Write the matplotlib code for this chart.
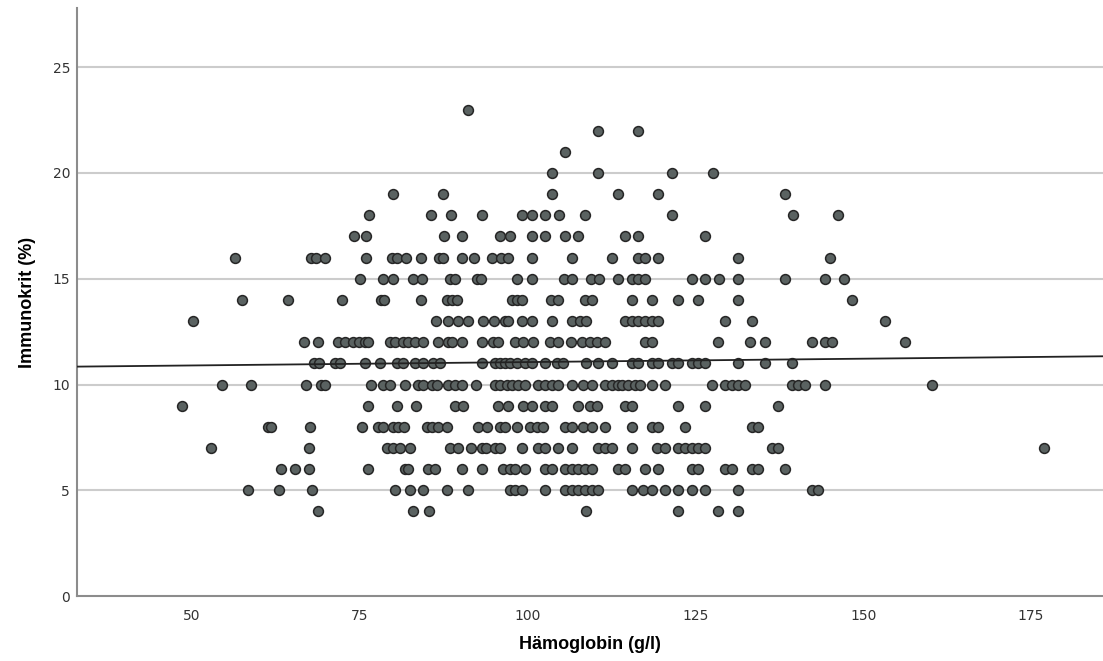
import numpy as np
import matplotlib
matplotlib.use("Agg")
import matplotlib.pyplot as plt

# Hämoglobin (g/l) readings, grouped by Immunokrit (%) value
hb_by_ik = {
    23: [91.2],
    22: [110.6, 116.5],
    21: [105.7],
    20: [103.7, 110.6, 121.6, 127.6],
    19: [80.1, 87.4, 103.7, 113.5, 119.5, 138.4],
    18: [76.5, 85.7, 88.7, 93.3, 99.3, 100.7, 102.7, 104.8, 108.6, 121.6, 139.5, 146.3],
    17: [74.3, 76.0, 87.6, 90.3, 96.0, 97.5, 100.7, 102.7, 105.7, 107.6, 114.6, 116.5, 126.5],
    16: [56.5, 67.9, 68.5, 69.9, 76.0, 79.9, 80.7, 82.0, 84.2, 86.9, 87.5, 90.3, 92.1, 94.8,
         96.1, 97.2, 100.7, 106.7, 112.6, 116.5, 117.6, 119.5, 131.4, 145.1],
    15: [75.1, 78.6, 80.1, 83.0, 84.4, 88.5, 89.3, 92.6, 93.2, 98.5, 100.7, 105.5, 106.7, 109.5,
         110.7, 113.5, 115.6, 116.5, 117.6, 124.6, 126.5, 128.5, 131.4, 138.4, 144.3, 147.2],
    14: [57.6, 64.4, 72.5, 78.3, 78.7, 84.2, 88.1, 88.8, 89.6, 97.8, 98.5, 99.3, 103.6, 104.6,
         108.6, 109.7, 115.6, 118.6, 122.5, 125.4, 131.4, 148.4],
    13: [50.3, 86.5, 88.2, 89.7, 91.2, 93.5, 95.1, 96.7, 97.2, 99.3, 100.7, 103.7, 106.7, 107.9,
         108.8, 114.6, 115.6, 116.5, 117.6, 118.6, 119.5, 129.5, 133.5, 153.3],
    12: [66.8, 68.8, 71.9, 72.9, 74.1, 74.9, 75.9, 76.3, 79.6, 80.4, 81.5, 82.3, 83.3, 84.5,
         86.8, 88.2, 88.8, 90.3, 93.3, 94.9, 95.7, 98.2, 99.4, 100.9, 103.4, 104.6, 106.5, 108.2,
         109.4, 110.4, 111.6, 117.6, 118.6, 128.4, 133.2, 135.4, 142.4, 144.3, 145.4, 156.3],
    11: [68.2, 69.0, 71.4, 72.2, 75.9, 78.1, 80.7, 81.5, 83.3, 84.5, 86.0, 87.1, 93.3, 95.2,
         96.0, 96.7, 97.5, 98.5, 99.7, 100.7, 102.7, 104.5, 105.4, 108.8, 110.6, 112.6, 115.6,
         116.5, 118.6, 119.5, 121.6, 122.5, 124.6, 125.4, 126.5, 131.4, 135.4, 139.4],
    10: [54.6, 58.9, 67.1, 69.3, 69.9, 76.8, 78.6, 79.6, 81.8, 83.8, 84.5, 85.9, 86.6, 88.2,
         89.3, 90.3, 92.4, 95.2, 96.0, 97.0, 97.8, 98.7, 99.7, 101.6, 102.7, 103.7, 104.6, 106.7,
         108.3, 109.7, 111.6, 112.6, 113.5, 114.1, 115.0, 116.1, 116.8, 118.6, 120.5, 127.5,
         129.5, 130.5, 131.4, 132.4, 139.4, 140.3, 141.4, 144.3, 160.3],
    9: [48.7, 76.3, 80.7, 83.5, 89.3, 90.5, 95.7, 97.2, 99.4, 100.7, 102.7, 103.7, 107.6, 109.4,
        110.4, 114.6, 115.6, 122.5, 126.5, 137.4],
    8: [61.5, 61.9, 67.7, 75.4, 77.8, 78.6, 80.1, 80.8, 81.7, 85.1, 85.9, 86.8, 88.1, 92.7,
        94.0, 96.0, 96.7, 98.5, 100.4, 101.5, 102.4, 105.7, 106.7, 108.3, 109.7, 111.6, 115.6,
        118.6, 119.5, 123.5, 133.5, 134.4],
    7: [53.0, 67.6, 79.2, 80.1, 81.1, 82.6, 88.5, 89.7, 91.7, 93.3, 93.8, 95.2, 96.0, 99.3,
        101.6, 102.7, 104.6, 106.7, 110.6, 111.6, 112.6, 115.6, 119.3, 120.5, 122.5, 123.5,
        124.6, 125.4, 126.5, 136.5, 137.4, 176.9],
    6: [63.4, 65.5, 67.6, 76.3, 81.8, 82.3, 85.3, 86.3, 90.3, 93.3, 96.4, 97.5, 98.2, 99.7,
        102.7, 103.7, 105.7, 106.7, 107.6, 108.6, 109.7, 113.5, 114.6, 117.6, 119.5, 124.6,
        125.4, 129.5, 130.5, 133.5, 134.4, 138.4],
    5: [58.5, 63.1, 68.0, 80.4, 82.6, 84.5, 88.1, 91.2, 97.5, 98.2, 99.3, 102.7, 105.7, 106.7,
        107.6, 108.6, 109.7, 110.6, 115.6, 117.3, 118.6, 120.5, 122.5, 124.6, 126.5, 131.4,
        142.4, 143.3],
    4: [68.8, 83.0, 85.4, 108.8, 122.5, 128.4, 131.4],
}

# fit line as shown in the chart
fit_intercept = 10.74
fit_slope = 0.0032

hb = np.array([h for ik in hb_by_ik for h in hb_by_ik[ik]])
ik = np.array([ik for ik in hb_by_ik for h in hb_by_ik[ik]], dtype=float)

x_ticks = [50, 75, 100, 125, 150, 175]
y_ticks = [0, 5, 10, 15, 20, 25]

fig = plt.figure(figsize=(11.03, 6.61), dpi=100)
ax = fig.add_axes([0.0698, 0.0983, 0.9302, 0.8896])

ax.set_xlim(33.0, 185.7)
ax.set_ylim(0, 27.8)

for t in y_ticks[1:]:
    ax.axhline(t, color="#cccccc", lw=1.5, zorder=0)

ax.scatter(hb, ik, s=50, facecolor="#5a6261", edgecolor="#262626", linewidth=1.1, zorder=3)

xs = np.array(ax.get_xlim())
ax.plot(xs, fit_intercept + fit_slope * xs, color="#222222", lw=1.3, zorder=4)

ax.set_xticks(x_ticks)
ax.set_yticks(y_ticks)
ax.tick_params(length=0, labelsize=10, labelcolor="#333333")
ax.tick_params(axis="x", pad=9)
ax.tick_params(axis="y", pad=5)
for lab in ax.get_xticklabels() + ax.get_yticklabels():
    lab.set_family(["Liberation Sans Narrow", "DejaVu Sans"])

for side in ["top", "right"]:
    ax.spines[side].set_visible(False)
for side in ["left", "bottom"]:
    ax.spines[side].set_color("#8c8c8c")
    ax.spines[side].set_linewidth(1.5)

ax.set_xlabel("Hämoglobin (g/l)", fontsize=13, fontweight="bold",
              family=["Liberation Sans", "DejaVu Sans"], labelpad=10)
ax.set_ylabel("Immunokrit (%)", fontsize=13, fontweight="bold",
              family=["Liberation Sans", "DejaVu Sans"], labelpad=12)

fig.savefig("out.png", dpi=100)
